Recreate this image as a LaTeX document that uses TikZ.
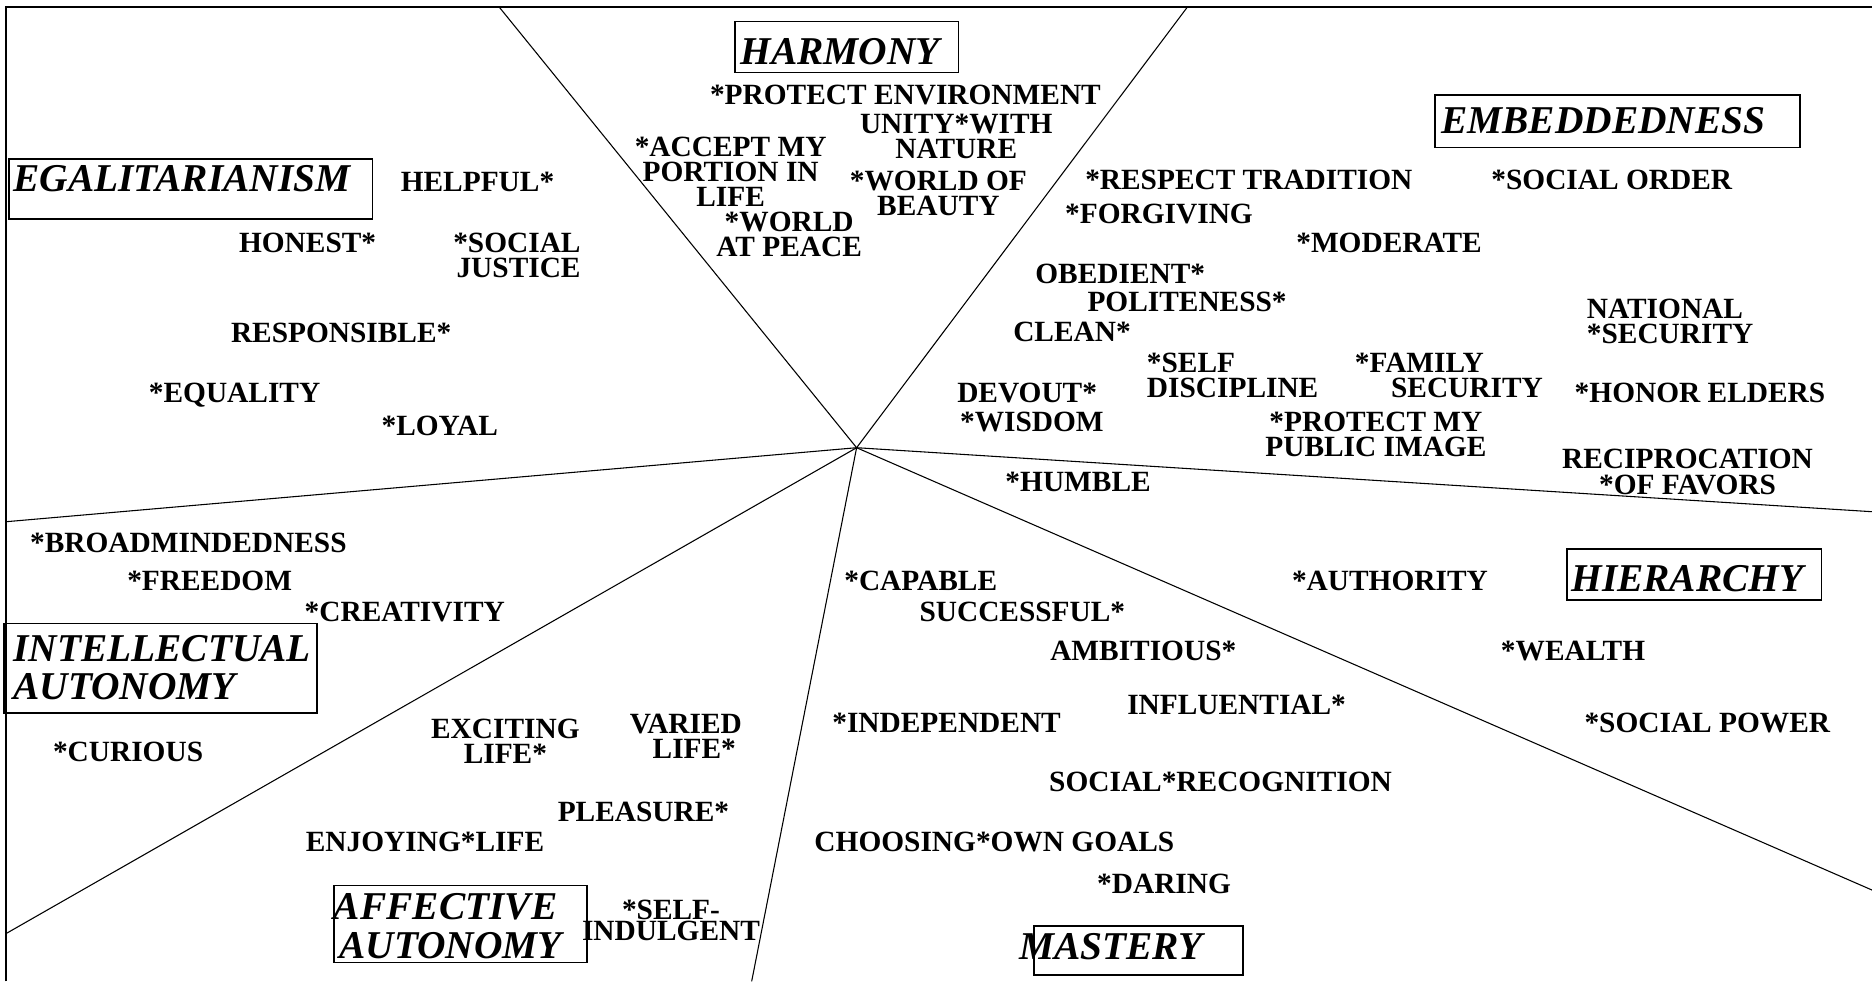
\documentclass[tikz,border=0pt]{standalone}
\usepackage{fontspec}
\setmainfont{Liberation Serif}
\newcommand{\valfont}{\fontsize{24.6}{21}\selectfont\bfseries}
\newcommand{\ttlfont}{\fontsize{33}{32}\selectfont\bfseries\itshape}
\begin{document}
\begin{tikzpicture}[x=1pt,y=-1pt,
  val/.style={font=\valfont, inner sep=0pt, anchor=west, text height=16.3pt, text depth=0pt},
  vblock/.style={font=\valfont, inner sep=0pt, align=center, anchor=north},
  ttl/.style={font=\ttlfont, inner sep=0pt, anchor=west, text height=21.8pt, text depth=0pt},
  ttlblock/.style={font=\ttlfont, inner sep=0pt, align=left, anchor=north west},
  ttlbox/.style={draw, line width=1.3pt, inner sep=0pt, anchor=north west},
  divider/.style={line width=0.9pt},
  outerframe/.style={line width=1.2pt}]
\useasboundingbox (0,0) rectangle (1568,822);

% outer frame (top and left edges)
\coordinate (frameBL) at (5,822);
\coordinate (frameTL) at (5,6);
\coordinate (frameTR) at (1568,6);
\draw[outerframe] (frameBL) -- (frameTL) -- (frameTR);

% dividing lines radiating from the hub
\coordinate (hub) at (717.5,375);
\coordinate (endHarmL) at (418.2,6);
\coordinate (endHarmR) at (994.5,6);
\coordinate (endEmbHier) at (1568,428.6);
\coordinate (endHierMast) at (1568,745.5);
\coordinate (endMastAff) at (629.6,822);
\coordinate (endAffInt) at (5,782);
\coordinate (endIntEgal) at (5,437);
\foreach \e in {endHarmL,endHarmR,endEmbHier,endHierMast,endMastAff,endAffInt,endIntEgal}
  \draw[divider] (hub) -- (\e);

% region title boxes
\node[ttlbox, minimum width=187pt, minimum height=42.7pt] (harmBox) at (615,17.3) {};
\node[ttlbox, minimum width=305.5pt, minimum height=44pt] (embBox) at (1201.5,79) {};
\node[ttlbox, minimum width=304.5pt, minimum height=50.3pt] (egalBox) at (7,132.7) {};
\node[ttlbox, minimum width=262.5pt, minimum height=75pt] (intBox) at (2.5,521.5) {};
\node[ttlbox, minimum width=212pt, minimum height=64.5pt] (affBox) at (279,741) {};
\node[ttlbox, minimum width=175pt, minimum height=41pt] (mastBox) at (865.5,774.8) {};
\node[ttlbox, minimum width=213pt, minimum height=42.7pt] (hierBox) at (1312,459.3) {};

% region titles
\node[ttl] (harmT) at (620,43) {HARMONY};
\node[ttl] (embT) at (1207,100.5) {EMBEDDEDNESS};
\node[ttl] (egalT) at (11,149.5) {EGALITARIANISM};
\node[ttlblock] (intT) at (11,532) {INTELLECTUAL\\AUTONOMY};
\node[ttlblock] (affT) at (279.5,748.5) {AFFECTIVE\\\hspace*{4.5pt}AUTONOMY};
\node[ttl] (mastT) at (853.5,793) {MASTERY};
\node[ttl] (hierT) at (1316,484.4) {HIERARCHY};

% harmony values
\node[val] (protEnv) at (594.5,79) {*PROTECT ENVIRONMENT};
\node[vblock] (unity) at (801,95) {UNITY*WITH\\NATURE};
\node[vblock] (accept) at (612,114.7) {*ACCEPT MY\\PORTION IN\\LIFE};
\node[vblock] (beauty) at (786,143) {*WORLD OF\\BEAUTY};
\node[vblock] (peace) at (661,177.5) {*WORLD\\AT PEACE};

% egalitarianism values
\node[val] (helpful) at (335.5,152) {HELPFUL*};
\node[val] (honest) at (200,203) {HONEST*};
\node[vblock, align=right, anchor=north east] (justice) at (486.5,194.8) {*SOCIAL\\JUSTICE};
\node[val] (responsible) at (193.3,278.6) {RESPONSIBLE*};
\node[val] (equality) at (124.5,329.4) {*EQUALITY};
\node[val] (loyal) at (319.4,356.8) {*LOYAL};

% embeddedness values
\node[val] (tradition) at (908.8,150.8) {*RESPECT TRADITION};
\node[val] (socOrder) at (1249,150.8) {*SOCIAL ORDER};
\node[val] (forgiving) at (892,178.7) {*FORGIVING};
\node[val] (moderate) at (1085.6,203) {*MODERATE};
\node[val] (obedient) at (867,229) {OBEDIENT*};
\node[val] (politeness) at (910.7,252.7) {POLITENESS*};
\node[val] (clean) at (848.5,277.8) {CLEAN*};
\node[vblock, align=left, anchor=north west] (national) at (1329,250) {NATIONAL\\*SECURITY};
\node[vblock, align=left, anchor=north west] (selfDisc) at (960.5,295.6) {*SELF\\DISCIPLINE};
\node[vblock, align=left, anchor=north west] (famSec) at (1134.6,295.6) {*FAMILY\\\hspace*{30.4pt}SECURITY};
\node[val] (elders) at (1318.8,329) {*HONOR ELDERS};
\node[val] (devout) at (801.6,329) {DEVOUT*};
\node[val] (wisdom) at (804,353) {*WISDOM};
\node[vblock] (pubImage) at (1152.5,344.8) {*PROTECT MY\\PUBLIC IMAGE};
\node[vblock] (recip) at (1413.5,376.3) {RECIPROCATION\\*OF FAVORS};
\node[val] (humble) at (842,403.5) {*HUMBLE};

% intellectual autonomy values
\node[val] (broad) at (25,454.5) {*BROADMINDEDNESS};
\node[val] (freedom) at (106.4,486.6) {*FREEDOM};
\node[val] (creativity) at (255,512.3) {*CREATIVITY};
\node[val] (curious) at (44.2,629.6) {*CURIOUS};

% affective autonomy values
\node[vblock] (exciting) at (423.3,601.8) {EXCITING\\LIFE*};
\node[vblock, align=right, anchor=north east] (varied) at (621.6,597.7) {VARIED\\LIFE*\hspace*{5pt}};
\node[val] (pleasure) at (467,679.9) {PLEASURE*};
\node[val] (enjoying) at (256,705) {ENJOYING*LIFE};
\node[vblock, font=\fontsize{24.6}{14}\selectfont\bfseries] (indulgent) at (562,753.8) {*SELF-\\INDULGENT};

% mastery values
\node[val] (capable) at (707,486.6) {*CAPABLE};
\node[val] (successful) at (770,512.3) {SUCCESSFUL*};
\node[val] (ambitious) at (879.5,545) {AMBITIOUS*};
\node[val] (influential) at (944,590.5) {INFLUENTIAL*};
\node[val] (independent) at (697,605.3) {*INDEPENDENT};
\node[val] (recognition) at (878.6,654.7) {SOCIAL*RECOGNITION};
\node[val] (goals) at (682,705) {CHOOSING*OWN GOALS};
\node[val] (daring) at (918.8,739.9) {*DARING};

% hierarchy values
\node[val] (authority) at (1082,486.6) {*AUTHORITY};
\node[val] (wealth) at (1257,545) {*WEALTH};
\node[val] (socPower) at (1327,605.3) {*SOCIAL POWER};
\end{tikzpicture}
\end{document}
